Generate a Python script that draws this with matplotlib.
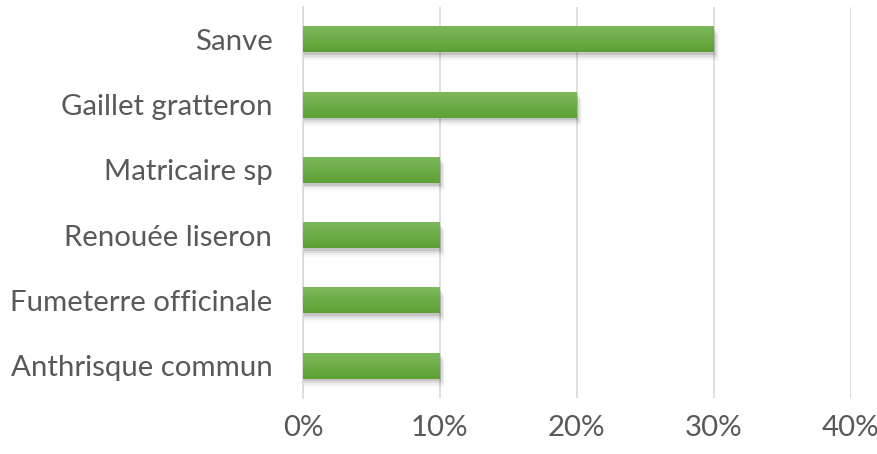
import matplotlib
matplotlib.use("Agg")
import matplotlib.pyplot as plt
import numpy as np
from matplotlib.colors import LinearSegmentedColormap

categories = ["Anthrisque commun", "Fumeterre officinale", "Renouée liseron",
              "Matricaire sp", "Gaillet gratteron", "Sanve"]
values = [0.10, 0.10, 0.10, 0.10, 0.20, 0.30]
xticks = [0, 0.1, 0.2, 0.3, 0.4]
xticklabels = ["0%", "10%", "20%", "30%", "40%"]

plt.rcParams['font.family'] = ['Lato', 'DejaVu Sans']
fig = plt.figure(figsize=(8.78, 4.54), dpi=100)
ax = fig.add_axes([0.345, 0.123, 0.624, 0.862])

y = np.arange(len(categories))
h = 0.4
# soft shadow
for dx, dy, a in [(0.001, -0.04, 0.10), (0.002, -0.07, 0.07), (0.003, -0.10, 0.045), (0.004, -0.13, 0.025)]:
    ax.barh(y + dy, np.array(values) + dx, height=h, color='black', alpha=a, zorder=1, linewidth=0)
bars = ax.barh(y, values, height=h, color='#6AAE45', zorder=2, linewidth=0)
cmap = LinearSegmentedColormap.from_list('g', ['#5DA033', '#7EBA5D'])
grad = np.linspace(0, 1, 100).reshape(-1, 1)
for b in bars:
    x0, y0 = b.get_x(), b.get_y()
    w, hh = b.get_width(), b.get_height()
    im = ax.imshow(grad, cmap=cmap, aspect='auto', origin='lower',
                   extent=[x0, x0 + w, y0, y0 + hh], zorder=3)
    im.set_clip_path(b)

ax.set_xlim(0, 0.4)
ax.set_ylim(-0.5, len(categories) - 0.5)
ax.set_xticks(xticks)
ax.set_xticklabels(xticklabels)
ax.set_yticks(y)
ax.set_yticklabels(categories)
ax.grid(axis='x', color='#D9D9D9', linewidth=1.2, zorder=0)
ax.set_axisbelow(True)
for s in ['top', 'right', 'bottom']:
    ax.spines[s].set_visible(False)
ax.spines['left'].set_color('#D9D9D9')
ax.spines['left'].set_linewidth(1.2)
ax.tick_params(axis='both', length=0, labelsize=21.2, labelcolor='#595959')
ax.tick_params(axis='x', pad=12)
ax.tick_params(axis='y', pad=22)

fig.savefig('out.png', dpi=100)
